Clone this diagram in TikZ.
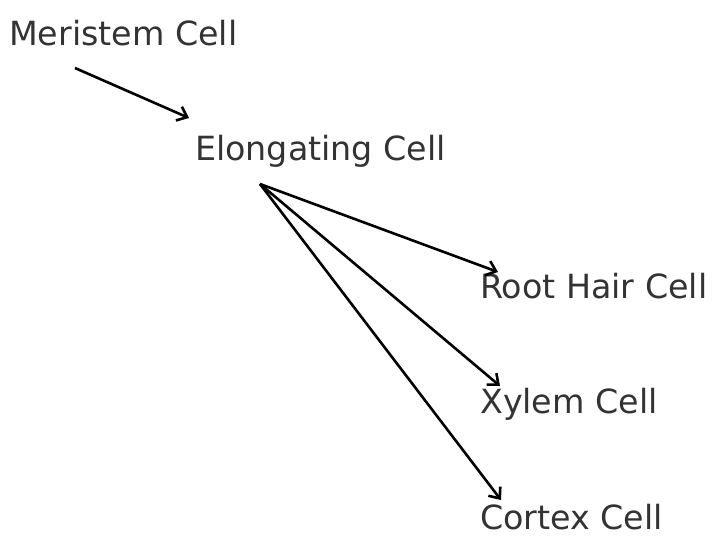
\documentclass[tikz,border=0pt]{standalone}
\usepackage{fontspec}
\setmainfont{DejaVu Sans}
\usetikzlibrary{arrows.meta}
\definecolor{labelgray}{HTML}{333333}

\begin{document}
\begin{tikzpicture}[x=1pt,y=-1pt,
  cell/.style={anchor=base west,inner sep=0pt,text=labelgray,font=\fontsize{33.3}{40}\selectfont},
  devarrow/.style={line width=2.6pt,-{Straight Barb[length=9pt,width=15pt,line width=2.6pt]}}]
  \useasboundingbox (0,0) rectangle (728,547);
  % cells
  \node[cell] (mer) at (9,45) {Meristem Cell};
  \node[cell] (elo) at (195,160) {Elongating Cell};
  \node[cell] (hair) at (480,298) {Root Hair Cell};
  \node[cell] (xyl) at (480,413) {Xylem Cell};
  \node[cell] (cor) at (480,529) {Cortex Cell};
  % arrow ends
  \coordinate (mer-out) at (75,68);
  \coordinate (elo-in) at (189,118);
  \coordinate (elo-out) at (260,184);
  \coordinate (hair-in) at (498,272);
  \coordinate (xyl-in) at (500,386);
  \coordinate (cor-in) at (501,500);
  \draw[devarrow] (mer-out)--(elo-in);
  \draw[devarrow] (elo-out)--(hair-in);
  \draw[devarrow] (elo-out)--(xyl-in);
  \draw[devarrow] (elo-out)--(cor-in);
\end{tikzpicture}
\end{document}
